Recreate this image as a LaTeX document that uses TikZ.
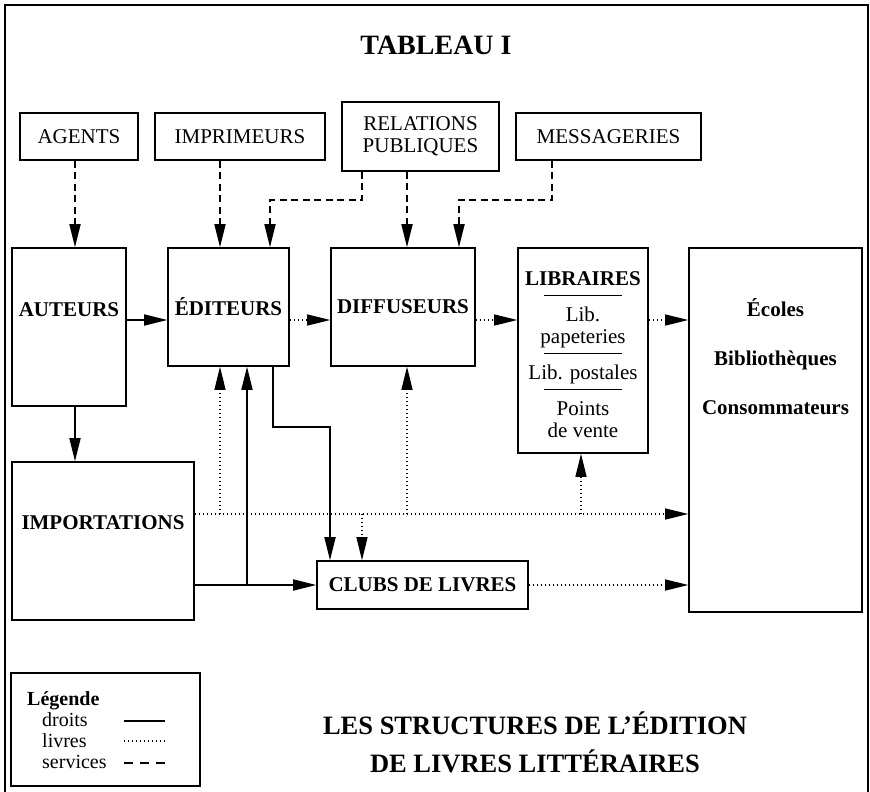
\documentclass[tikz,border=0pt]{standalone}
\usepackage{fontspec}
\setmainfont{Liberation Serif}
\usetikzlibrary{arrows.meta}
\newcommand\corps{\fontsize{21}{22}\selectfont}
\newcommand\legfont{\fontsize{20}{21}\selectfont}
\newcommand\gros{\fontsize{26.5}{38}\selectfont\bfseries}
\newcommand\filet{\rule{78pt}{1.5pt}}
\tikzstyle{boite}=[draw,line width=1.6pt,inner sep=0pt,align=center,font=\corps]
\tikzstyle{fhead}=[>/.tip={Triangle[length=23pt,width=11pt]}]
\tikzstyle{droits}=[line width=1.8pt,fhead]
\tikzstyle{livres}=[line width=1.3pt,dash pattern=on 1.4pt off 2.6pt,fhead]
\tikzstyle{services}=[line width=1.8pt,dash pattern=on 7pt off 4.5pt,fhead]
\begin{document}
\begin{tikzpicture}[x=1pt,y=-1pt]
	\useasboundingbox (0,0) rectangle (870,792);
	\draw[line width=1.6pt] (5,792) -- (5,5) -- (868,5) -- (868,792);
	\node[font=\fontsize{28}{30}\selectfont\bfseries] (tableau) at (436,45) {TABLEAU I};
	% services
	\node[boite,minimum width=118pt,minimum height=47pt] (agents) at (79,136.5) {AGENTS};
	\node[boite,minimum width=170pt,minimum height=47pt] (imprimeurs) at (240,136.5) {IMPRIMEURS};
	\node[boite,minimum width=157pt,minimum height=69pt] (relations) at (420.5,136.5) {RELATIONS\\PUBLIQUES};
	\node[boite,minimum width=185pt,minimum height=47pt] (messageries) at (608.5,136.5) {MESSAGERIES};
	% chaine du livre
	\node[boite,font=\corps\bfseries,minimum width=114pt,text height=68pt,text depth=90pt] (auteurs) at (69,327) {AUTEURS};
	\node[boite,font=\corps\bfseries,minimum width=121pt,minimum height=118pt] (editeurs) at (228.5,307) {ÉDITEURS};
	\node[boite,font=\corps\bfseries,minimum width=144pt,minimum height=118pt] (diffuseurs) at (403,307) {DIFFUSEURS};
	\node[boite,minimum width=130pt,text height=189pt,text depth=16pt] (libraires) at (583,350.5)
		{\textbf{LIBRAIRES}\\[-11pt]\filet\\[3pt]Lib.\\papeteries\\[-11pt]\filet\\[3pt]Lib. postales\\[-11pt]\filet\\[3pt]Points\\de vente};
	\node[boite,font=\corps\bfseries,minimum width=173pt,text height=166pt,text depth=198pt] (ecoles) at (775.5,430)
		{Écoles\\[27pt]Bibliothèques\\[27pt]Consommateurs};
	\node[boite,font=\corps\bfseries,minimum width=182pt,text height=67pt,text depth=91pt] (importations) at (103,541) {IMPORTATIONS};
	\node[boite,font=\corps\bfseries,minimum width=211pt,minimum height=48pt] (clubs) at (422.5,585) {CLUBS DE LIVRES};
	% points de passage
	\coordinate (h1) at (0,320);
	\coordinate (h2) at (0,514);
	\coordinate (s1) at (75,0);
	\coordinate (s2) at (220,0);
	\coordinate (s5) at (407,0);
	\coordinate (l1) at (581,0);
	\coordinate (rp1) at (362,200);
	\coordinate (rp2) at (270,200);
	\coordinate (ms1) at (552,200);
	\coordinate (ms2) at (459,200);
	\coordinate (j1) at (247,585);
	\coordinate (k1) at (273,427);
	\coordinate (k2) at (330,427);
	\draw[services,->] (agents.south -| s1) -- (auteurs.north -| s1);
	\draw[services,->] (imprimeurs.south -| s2) -- (editeurs.north -| s2);
	\draw[services,->] (relations.south -| rp1) -- (rp1) -- (rp2) -- (editeurs.north -| rp2);
	\draw[services,->] (relations.south -| s5) -- (diffuseurs.north -| s5);
	\draw[services,->] (messageries.south -| ms1) -- (ms1) -- (ms2) -- (diffuseurs.north -| ms2);
	\draw[droits,->] (auteurs.east |- h1) -- (editeurs.west |- h1);
	\draw[droits,->] (auteurs.south -| s1) -- (importations.north -| s1);
	\draw[droits,->] (importations.east |- clubs.west) -- (clubs.west);
	\draw[droits,->] (j1) -- (editeurs.south -| j1);
	\draw[droits,->] (editeurs.south -| k1) -- (k1) -- (k2) -- (clubs.north -| k2);
	\draw[livres,->] (editeurs.east |- h1) -- (diffuseurs.west |- h1);
	\draw[livres,->] (diffuseurs.east |- h1) -- (libraires.west |- h1);
	\draw[livres,->] (libraires.east |- h1) -- (ecoles.west |- h1);
	\draw[livres,->] (importations.east |- h2) -- (ecoles.west |- h2);
	\draw[livres,->] (s2 |- h2) -- (editeurs.south -| s2);
	\draw[livres,->] (s5 |- h2) -- (diffuseurs.south -| s5);
	\draw[livres,->] (l1 |- h2) -- (libraires.south -| l1);
	\draw[livres,->] (rp1 |- h2) -- (clubs.north -| rp1);
	\draw[livres,->] (clubs.east) -- (ecoles.west |- clubs.east);
	% legende
	\node[boite,minimum width=189pt,minimum height=113pt] (legende) at (105.5,729.5) {};
	\node[anchor=base west,inner sep=0pt,font=\legfont\bfseries] (leg) at (27,705) {Légende};
	\node[anchor=base west,inner sep=0pt,font=\legfont] (ldroits) at (42,726) {droits};
	\node[anchor=base west,inner sep=0pt,font=\legfont] (llivres) at (42,747) {livres};
	\node[anchor=base west,inner sep=0pt,font=\legfont] (lservices) at (42,768) {services};
	\draw[droits] (124,721) -- (165,721);
	\draw[livres] (124,741) -- (165,741);
	\draw[services,line width=2pt,dash pattern=on 9pt off 7pt] (124,763) -- (165,763);
	\node[font=\gros,align=center] (titre) at (535,742) {LES STRUCTURES DE L’ÉDITION\\DE LIVRES LITTÉRAIRES};
\end{tikzpicture}
\end{document}
